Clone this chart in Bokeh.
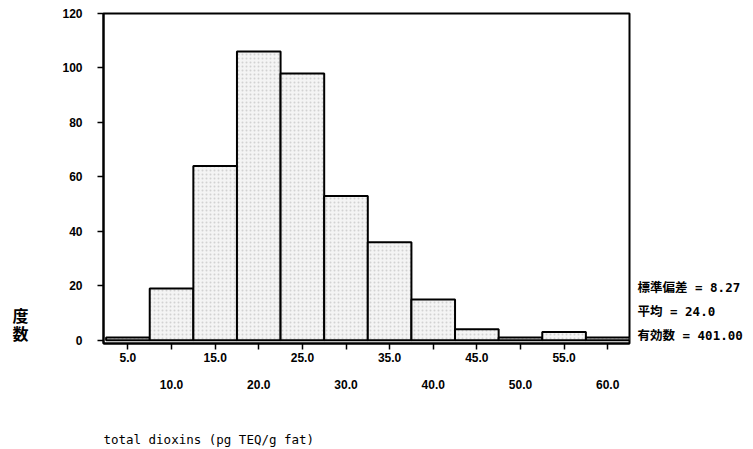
from bokeh.plotting import figure
from bokeh.models import LinearAxis, FixedTicker, Range1d
from bokeh.embed import file_html
from bokeh.resources import INLINE

centers = [5, 10, 15, 20, 25, 30, 35, 40, 45, 50, 55, 60]
counts = [1, 19, 64, 106, 98, 53, 36, 15, 4, 1, 3, 1]
y_ticks = [0, 20, 40, 60, 80, 100, 120]
x_ticks_odd = [5, 15, 25, 35, 45, 55]
x_ticks_even = [10, 20, 30, 40, 50, 60]
stats = ["標準偏差 = 8.27", "平均 = 24.0", "有効数 = 401.00"]
stats_y = [19.4, 10.6, 1.8]
x_title = "total  dioxins (pg TEQ/g fat)"
x_title_pos = 14.7
y_title_chars = ["度", "数"]
y_title_pos = [9.2, 2.6]

TICK_FONT = "Liberation Sans"
CJK_FONT = "Noto Sans CJK JP"
MONO_CJK = "DejaVu Sans Mono, Noto Sans CJK JP"


def style_labels(ax, font=TICK_FONT, size="12px", bold=True):
    ax.major_label_text_font = font
    ax.major_label_text_font_size = size
    ax.major_label_text_font_style = "bold" if bold else "normal"
    ax.major_label_text_color = "black"


def hide_lines(ax):
    ax.axis_line_alpha = 0
    ax.major_tick_out = 0
    ax.major_tick_in = 0
    ax.minor_tick_out = 0
    ax.minor_tick_in = 0
    ax.major_tick_line_alpha = 0
    ax.minor_tick_line_alpha = 0


p = figure(width=753, height=449, output_backend="svg", toolbar_location=None,
           x_range=Range1d(2.2, 62.5), y_range=Range1d(-1.2, 120),
           x_axis_type=None, y_axis_type=None,
           min_border_left=103, min_border_right=124,
           min_border_top=13, min_border_bottom=106)
p.grid.visible = False
p.outline_line_color = "black"
p.outline_line_width = 2
p.background_fill_color = "white"
p.border_fill_color = "white"

w = 5
p.quad(left=[c - w / 2 for c in centers], right=[c + w / 2 for c in centers],
       bottom=0, top=counts, fill_color="#f4f4f4", line_color="black", line_width=2,
       hatch_pattern="dot", hatch_color="#a0a0a0", hatch_alpha=0.4, hatch_scale=4)

# y axis
ya = LinearAxis(ticker=FixedTicker(ticks=y_ticks))
ya.axis_line_width = 2
ya.major_tick_out = 6
ya.major_tick_in = 0
ya.minor_tick_out = 0
ya.minor_tick_in = 0
ya.major_tick_line_width = 1.5
ya.major_label_standoff = 15
style_labels(ya)
p.add_layout(ya, "left")

# y title as stacked characters
yt = LinearAxis(ticker=FixedTicker(ticks=y_title_pos))
yt.major_label_overrides = {pos: ch for pos, ch in zip(y_title_pos, y_title_chars)}
hide_lines(yt)
yt.major_label_standoff = 31
style_labels(yt, font=CJK_FONT, size="16px")
p.add_layout(yt, "left")

# stats on right
sa = LinearAxis(ticker=FixedTicker(ticks=stats_y))
sa.major_label_overrides = {y: s for y, s in zip(stats_y, stats)}
hide_lines(sa)
sa.major_label_standoff = 8
style_labels(sa, font=MONO_CJK, size="12.5px")
p.add_layout(sa, "right")

# x axis 1: all ticks, odd labels
all_ticks = sorted(x_ticks_odd + x_ticks_even)
xa = LinearAxis(ticker=FixedTicker(ticks=all_ticks))
xa.major_label_overrides = {t: ("" if t in x_ticks_even else f"{t:.1f}") for t in all_ticks}
xa.axis_line_width = 2
xa.major_tick_out = 6
xa.major_tick_in = 0
xa.minor_tick_out = 0
xa.major_tick_line_width = 1.5
xa.major_label_standoff = 3
style_labels(xa)
p.add_layout(xa, "below")

# x axis 2: even labels
xb = LinearAxis(ticker=FixedTicker(ticks=x_ticks_even))
xb.major_label_overrides = {t: f"{t:.1f}" for t in x_ticks_even}
hide_lines(xb)
xb.major_label_standoff = 15
style_labels(xb)
p.add_layout(xb, "below")

# x title, left-aligned under the frame
xt = LinearAxis(ticker=FixedTicker(ticks=[x_title_pos]))
xt.major_label_overrides = {x_title_pos: x_title}
hide_lines(xt)
xt.major_label_standoff = 40
style_labels(xt, font="DejaVu Sans Mono", size="12.5px", bold=False)
p.add_layout(xt, "below")

open("out.html", "w").write(file_html(p, INLINE))
